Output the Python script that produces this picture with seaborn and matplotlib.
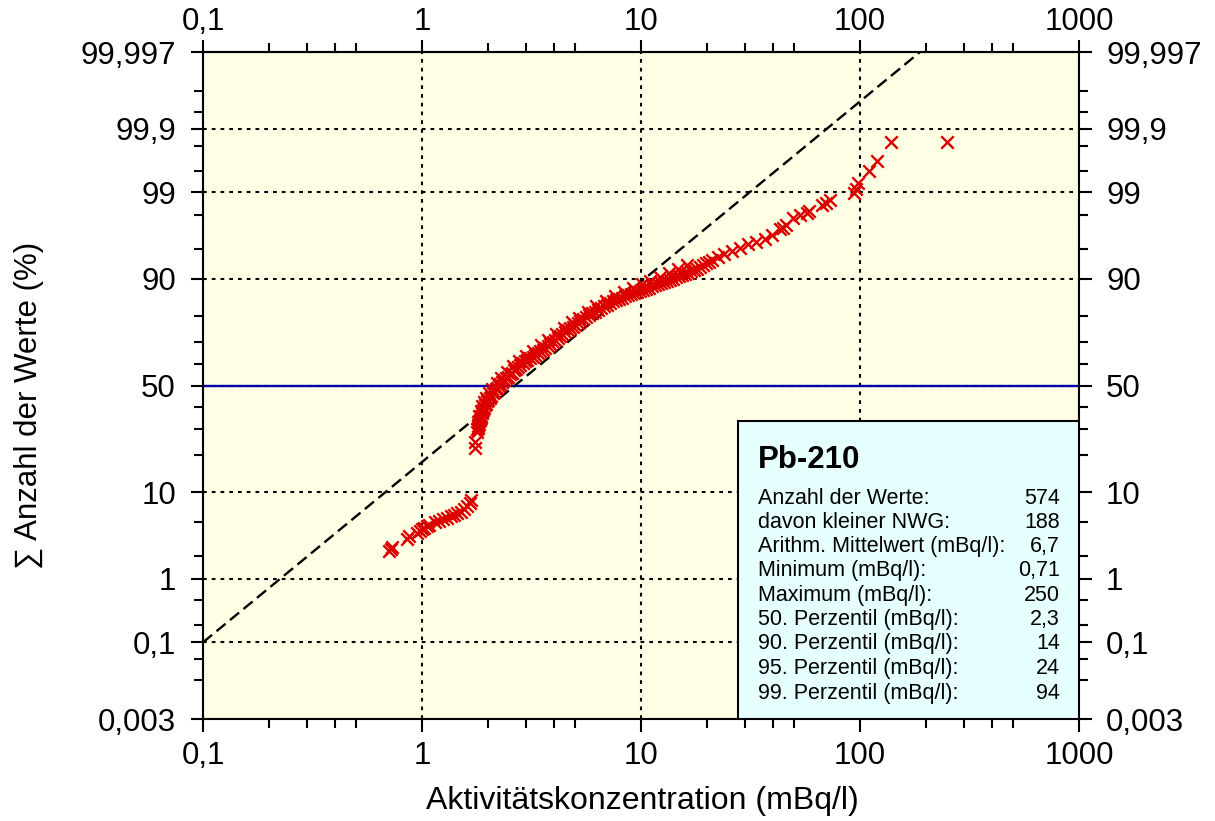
import numpy as np
import pandas as pd
import matplotlib
matplotlib.use("Agg")
import matplotlib.pyplot as plt
import seaborn as sns
from matplotlib.ticker import FixedLocator, FixedFormatter, LogLocator, NullFormatter
from matplotlib.patches import Rectangle
from statistics import NormalDist

# ---------------- data ----------------
conc = [0.71, 0.72, 0.73, 0.85, 0.87, 0.95, 0.98, 1.00, 1.02, 1.05, 1.08,
        1.15, 1.20, 1.25, 1.30, 1.35, 1.40, 1.45, 1.50, 1.55, 1.60, 1.65, 1.67,
        1.75, 1.75,
        1.78, 1.79, 1.80, 1.81, 1.82, 1.83, 1.84, 1.85, 1.86, 1.87, 1.88, 1.90,
        1.92, 1.94, 1.96, 1.98, 2.00, 2.04, 2.07, 2.10, 2.13, 2.17, 2.20, 2.24,
        2.27, 2.32, 2.37, 2.42, 2.47, 2.52, 2.58, 2.64, 2.69, 2.75, 2.80, 2.88,
        2.95, 3.03, 3.11, 3.20, 3.28, 3.37, 3.46, 3.55, 3.65, 3.75, 3.84, 3.95,
        4.05, 4.16, 4.27, 4.38, 4.50, 4.62, 4.74, 4.87, 5.00, 5.13, 5.26, 5.43,
        5.61, 5.79, 5.97, 6.16, 6.36, 6.57, 6.78, 7.00, 7.22, 7.45, 7.69, 7.94,
        8.19, 8.45, 8.72, 9.00, 9.29, 9.60, 9.90, 10.2, 10.5, 10.9, 11.2, 11.6,
        12.0, 12.4, 12.7, 13.2, 13.6, 14.0, 14.4, 14.9, 15.4, 15.9, 16.4, 17.0,
        17.5, 18.0, 18.6, 19.2, 19.8, 20.4, 21.1, 22.5, 23.9, 26.0, 28.3, 30.8,
        33.5, 36.8, 39.6, 43.1, 44.5, 45.9, 49.4, 53.2, 57.0, 58.5, 67.0, 70.0,
        72.9, 94.0, 96.0, 98.0, 110, 120, 139, 250,
        # second row of points in the dense band
        1.80, 1.82, 1.85, 1.88, 1.91, 1.95, 2.02, 2.09, 2.19, 2.30, 2.45, 2.61,
        2.78, 2.98, 3.22, 3.48, 3.78, 4.10, 4.45, 4.83, 5.20, 5.70, 6.25, 6.90,
        7.60, 8.35, 9.20, 10.1, 11.0, 12.2, 13.4, 14.7, 16.2]
cum_pct = [2.30, 2.45, 2.60, 3.20, 3.50, 3.80, 4.00, 4.20, 4.35, 4.50, 4.70,
           5.00, 5.15, 5.35, 5.55, 5.75, 5.95, 6.20, 6.40, 6.80, 7.30, 7.90, 8.50,
           22.7, 24.9,
           28.9, 30.0, 30.6, 31.5, 32.3, 33.4, 34.0, 35.0, 35.8, 36.9, 37.7, 38.5,
           39.5, 40.6, 41.4, 42.5, 43.3, 44.1, 45.2, 46.3, 47.1, 48.3, 49.0, 50.0,
           50.5, 51.6, 52.4, 53.5, 54.3, 55.4, 56.2, 57.4, 58.1, 59.0, 59.6, 60.6,
           61.4, 62.2, 62.8, 63.6, 64.2, 65.2, 66.0, 66.6, 67.3, 68.2, 69.0, 69.9,
           70.7, 71.6, 72.3, 73.2, 73.9, 74.8, 75.5, 76.0, 76.6, 77.5, 78.1, 78.7,
           79.4, 80.2, 80.8, 81.2, 81.8, 82.5, 83.0, 83.5, 83.9, 84.4, 84.8, 85.1,
           85.4, 85.9, 86.2, 86.5, 86.7, 87.0, 87.2, 87.5, 87.7, 88.0, 88.4, 88.7,
           88.9, 89.1, 89.3, 89.6, 89.8, 90.1, 90.4, 90.6, 90.8, 91.0, 91.2, 91.5,
           91.8, 92.0, 92.3, 92.7, 93.0, 93.2, 93.5, 93.9, 94.3, 94.7, 95.1, 95.6,
           95.8, 96.1, 96.5, 97.0, 97.1, 97.3, 97.8, 98.0, 98.1, 98.2, 98.5, 98.6,
           98.7, 98.96, 99.11, 99.27, 99.50, 99.66, 99.83, 99.83,
           33.0, 35.5, 38.0, 40.2, 42.0, 44.0, 46.5, 48.5, 51.0, 53.8, 56.5, 59.2,
           61.5, 63.9, 66.2, 68.6, 71.0, 73.4, 75.6, 77.6, 79.3, 81.3, 83.0, 84.6,
           85.9, 87.0, 88.0, 88.9, 89.6, 90.5, 91.2, 91.9, 92.6]

ref_conc = [0.1, 188.0]          # fitted log-normal reference line
ref_pct = [0.1, 99.997]
median_pct = 50

x_ticks = [0.1, 1, 10, 100, 1000]
x_ticklabels = ["0,1", "1", "10", "100", "1000"]
x_minor_subs = [2, 3, 4, 5]
y_ticks = [0.003, 0.1, 1, 10, 50, 90, 99, 99.9, 99.997]
y_ticklabels = ["0,003", "0,1", "1", "10", "50", "90", "99", "99,9", "99,997"]
y_minor = [0.02, 0.05, 0.2, 0.5, 2, 5, 20, 30, 40, 60, 70, 80, 95, 98,
           99.5, 99.8, 99.95, 99.98]

box_title = "Pb-210"
stat_labels = ["Anzahl der Werte:", "davon kleiner NWG:",
               "Arithm. Mittelwert (mBq/l):", "Minimum (mBq/l):",
               "Maximum (mBq/l):", "50. Perzentil (mBq/l):",
               "90. Perzentil (mBq/l):", "95. Perzentil (mBq/l):",
               "99. Perzentil (mBq/l):"]
stat_values = ["574", "188", "6,7", "0,71", "250", "2,3", "14", "24", "94"]

x_label = "Aktivitätskonzentration (mBq/l)"
y_label = "\u2211 Anzahl der Werte (%)"

# ---------------- probability (probit) scale ----------------
_nd = NormalDist()
_ppf = np.vectorize(_nd.inv_cdf, otypes=[float])
_cdf = np.vectorize(_nd.cdf, otypes=[float])


def prob_forward(p):
    p = np.asarray(p, dtype=float)
    q = np.clip(p / 100.0, 1e-12, 1 - 1e-12)
    return _ppf(q)


def prob_inverse(z):
    z = np.asarray(z, dtype=float)
    return _cdf(z) * 100.0


# ---------------- plot ----------------
sns.set_style("ticks")
plt.rcParams["font.family"] = ["Liberation Sans", "DejaVu Sans"]
plt.rcParams["text.color"] = "black"
plt.rcParams["axes.labelcolor"] = "black"
plt.rcParams["xtick.color"] = "black"
plt.rcParams["ytick.color"] = "black"

fig = plt.figure(figsize=(12.15, 8.21), dpi=100)
W, H = 1215, 821
ax = fig.add_axes([203 / W, 1 - 719 / H, 876 / W, 667 / H])
ax.set_facecolor("#FFFFE6")

ax.set_xscale("log")
ax.set_yscale("function", functions=(prob_forward, prob_inverse))
ax.set_xlim(x_ticks[0], x_ticks[-1])
ax.set_ylim(y_ticks[0], y_ticks[-1])

df = pd.DataFrame({"conc": conc, "pct": cum_pct})
ref = pd.DataFrame({"conc": ref_conc, "pct": ref_pct})

ax.set_axisbelow(True)
ax.grid(True, which="major", color="black", linestyle=(0, (1.8, 2.4)), linewidth=1.5)
ax.grid(False, which="minor")

ax.axhline(median_pct, color="#0000B0", linewidth=1.7, zorder=2)

sns.lineplot(data=ref, x="conc", y="pct", estimator=None, sort=False,
             color="black", linewidth=1.7, dashes=False, ax=ax, zorder=3)
ax.lines[-1].set_linestyle((0, (5, 2.4)))

sns.scatterplot(data=df, x="conc", y="pct", marker="x", s=80,
                color="#DD0000", linewidth=1.7, legend=False, ax=ax, zorder=4)

# ticks
ax.xaxis.set_major_locator(FixedLocator(x_ticks))
ax.xaxis.set_major_formatter(FixedFormatter(x_ticklabels))
ax.xaxis.set_minor_locator(LogLocator(base=10, subs=x_minor_subs))
ax.xaxis.set_minor_formatter(NullFormatter())
ax.yaxis.set_major_locator(FixedLocator(y_ticks))
ax.yaxis.set_major_formatter(FixedFormatter(y_ticklabels))
ax.yaxis.set_minor_locator(FixedLocator(y_minor))
ax.yaxis.set_minor_formatter(NullFormatter())

ax.tick_params(which="both", direction="out", width=1.5, color="black",
               left=True, right=True, bottom=True, top=False,
               labelleft=True, labelright=True, labelbottom=True, labeltop=False,
               labelsize=22.5, labelcolor="black")
ax.tick_params(which="major", length=9)
ax.tick_params(which="minor", length=6.5)
ax.tick_params(axis="x", which="major", pad=7)
ax.tick_params(axis="y", which="major", pad=10.5)

secx = ax.secondary_xaxis("top")
secx.xaxis.set_major_locator(FixedLocator(x_ticks))
secx.xaxis.set_major_formatter(FixedFormatter(x_ticklabels))
secx.xaxis.set_minor_locator(LogLocator(base=10, subs=x_minor_subs))
secx.xaxis.set_minor_formatter(NullFormatter())
secx.tick_params(which="both", direction="out", width=1.5, color="black",
                 labelsize=22.5, labelcolor="black")
secx.tick_params(which="major", length=9, pad=2)
secx.tick_params(which="minor", length=6.5)
secx.spines["top"].set_linewidth(1.5)

for sp in ax.spines.values():
    sp.set_linewidth(1.5)
    sp.set_color("black")
    sp.set_visible(True)

ax.set_xlabel(x_label, fontsize=23, color="black")
ax.set_ylabel(y_label, fontsize=22.5, color="black")
ax.xaxis.set_label_coords(0.501, -0.100)
ax.yaxis.set_label_coords(-0.182, 0.47)

# info box
bx0 = (738 - 203) / 876
by1 = (719 - 421) / 667
ax.add_patch(Rectangle((bx0, 0), 1 - bx0, by1, transform=ax.transAxes,
                       facecolor="#E6FFFF", edgecolor="black", linewidth=1.5,
                       zorder=5))
ax.text((758 - 203) / 876, (719 - 460) / 667, box_title, transform=ax.transAxes,
        fontsize=22.5, fontweight="bold", ha="left", va="center", zorder=6,
        color="black")
row_y = [498, 522, 546, 570, 595, 619, 643, 668, 693]
for lab, val, yy in zip(stat_labels, stat_values, row_y):
    ya = (719 - yy) / 667
    ax.text((758 - 203) / 876, ya, lab, transform=ax.transAxes, fontsize=15.5,
            ha="left", va="center", zorder=6, color="black")
    ax.text((1060 - 203) / 876, ya, val, transform=ax.transAxes, fontsize=15.5,
            ha="right", va="center", zorder=6, color="black")

fig.savefig("out.png", dpi=100)
